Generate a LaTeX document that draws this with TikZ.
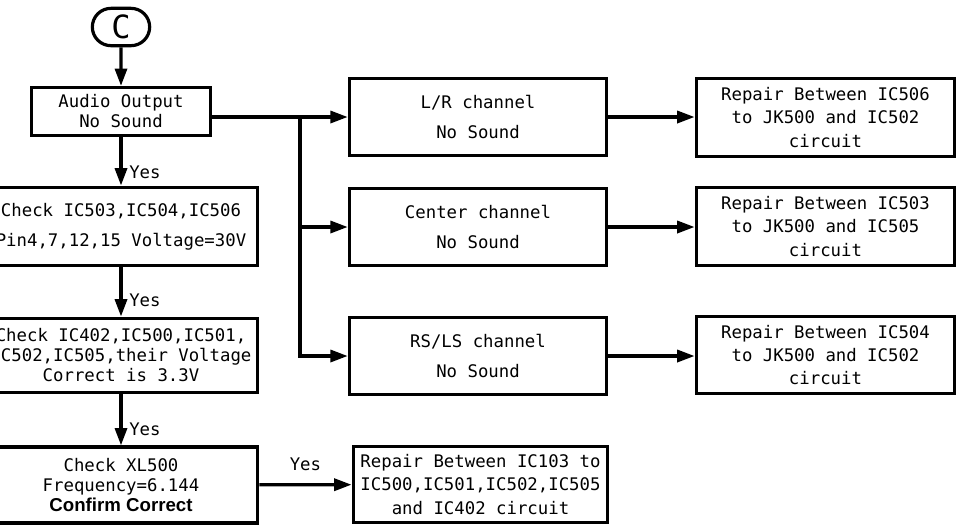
\documentclass[tikz,border=0pt]{standalone}
\usepackage{fontspec}
\usetikzlibrary{arrows.meta,shapes.misc}
\newfontfamily\cadfont{DejaVu Sans Mono}
\newfontfamily\arialfont{Liberation Sans}
\tikzset{
    box/.style={draw=black, line width=2.4pt, align=center, inner sep=0, font=\cadfont\fontsize{13}{15}\selectfont},
    chk/.style={box, minimum width=205pt, minimum height=59pt},
    chan/.style={box, minimum width=193pt, minimum height=58pt, font=\cadfont\fontsize{13}{22.5}\selectfont},
    rep/.style={box, minimum width=194pt, minimum height=58pt, font=\cadfont\fontsize{13}{17.5}\selectfont},
    term/.style={rounded rectangle, draw=black, line width=2.4pt, minimum width=43pt, minimum height=28pt, inner sep=0, font=\cadfont\fontsize{24}{24}\selectfont},
    flow/.style={line width=2.4pt, -{Triangle[length=13pt,width=9pt]}},
    yes/.style={font=\cadfont\fontsize{13}{15}\selectfont, inner sep=2pt}
}
\begin{document}
\begin{tikzpicture}[x=0.75pt, y=-0.75pt]
    \useasboundingbox (0,0) rectangle (966,529);
    \node[term] (c) at (121,27) {C};
    \node[box, minimum width=134pt, minimum height=36pt] (audio) at (121,111.5) {Audio Output\\No Sound};
    \node[chk, font=\cadfont\fontsize{13}{22.5}\selectfont] (chk1) at (121,226.5) {Check IC503,IC504,IC506\\Pin4,7,12,15 Voltage=30V};
    \node[chk, minimum height=56pt] (chk2) at (121,355.5) {Check IC402,IC500,IC501,\\IC502,IC505,their Voltage\\Correct is 3.3V};
    \node[chk, minimum height=57pt] (chk3) at (121,485) {Check XL500\\Frequency=6.144\\{\arialfont\bfseries\fontsize{14}{15}\selectfont Confirm Correct}};
    \node[chan] (lr) at (478,117) {L/R channel\\No Sound};
    \node[chan] (cen) at (478,227) {Center channel\\No Sound};
    \node[chan] (rsls) at (478,356) {RS/LS channel\\No Sound};
    \node[rep] (rep1) at (825.5,117.5) {Repair Between IC506\\to JK500 and IC502\\circuit};
    \node[rep] (rep2) at (825.5,226.5) {Repair Between IC503\\to JK500 and IC505\\circuit};
    \node[rep] (rep3) at (825.5,355) {Repair Between IC504\\to JK500 and IC502\\circuit};
    \node[rep, minimum width=191pt, minimum height=57pt] (rep4) at (480.5,484.5) {Repair Between IC103 to\\IC500,IC501,IC502,IC505\\and IC402 circuit};
    \coordinate (split) at (300,117);

    \draw[flow] (c) -- (audio);
    \draw[flow] (audio) -- node[yes, pos=0.72, anchor=west, xshift=3pt] {Yes} (chk1);
    \draw[flow] (chk1) -- node[yes, pos=0.66, anchor=west, xshift=3pt] {Yes} (chk2);
    \draw[flow] (chk2) -- node[yes, pos=0.69, anchor=west, xshift=3pt] {Yes} (chk3);
    \draw[flow] (chk3) -- node[yes, above=7pt] {Yes} (rep4);
    \draw[flow] (audio.east |- lr.west) -- (lr.west);
    \draw[flow] (split) |- (cen.west);
    \draw[flow] (split) |- (rsls.west);
    \draw[flow] (lr) -- (rep1.west |- lr.east);
    \draw[flow] (cen) -- (rep2.west |- cen.east);
    \draw[flow] (rsls) -- (rep3.west |- rsls.east);
\end{tikzpicture}
\end{document}
